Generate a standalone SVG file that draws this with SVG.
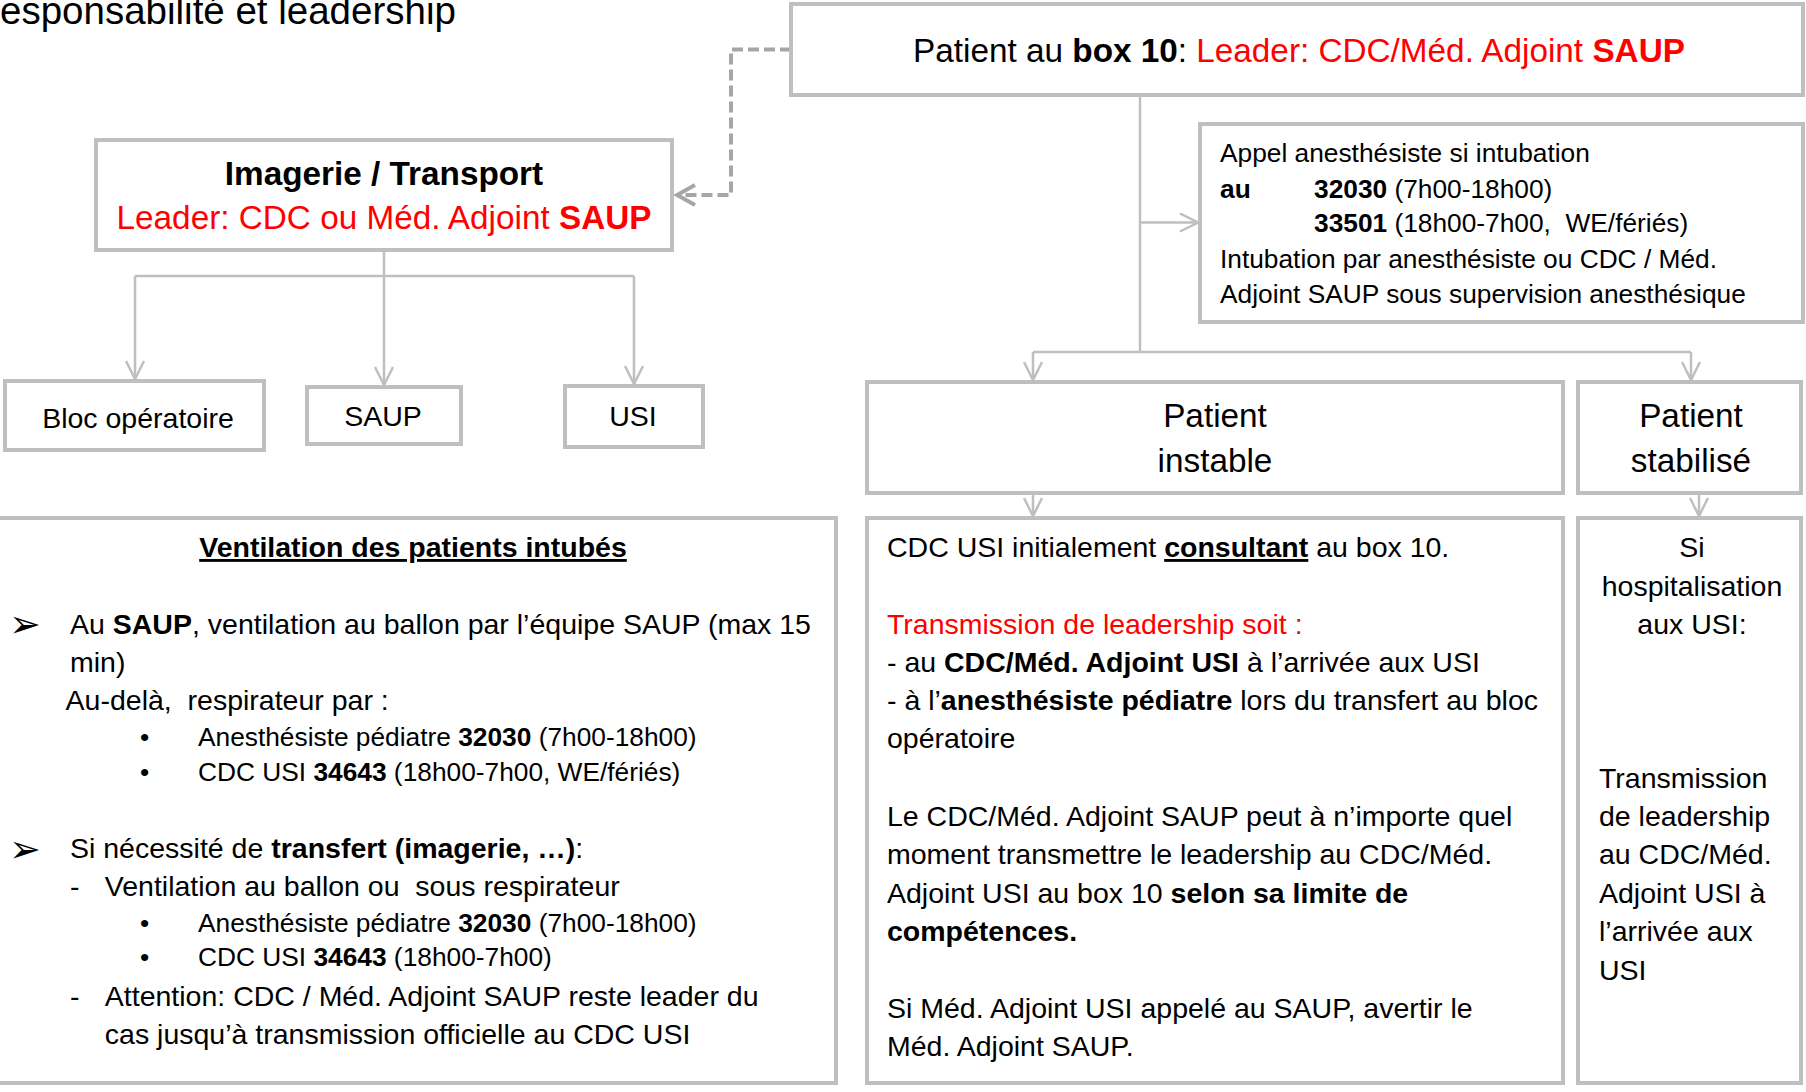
<svg xmlns="http://www.w3.org/2000/svg" width="1806" height="1092" viewBox="0 0 1806 1092">
<style>
.box{fill:#FFFFFF;stroke:#BFBFBF;stroke-width:4}
.t{font-family:"Liberation Sans",Arial,sans-serif;fill:#000000}
.h{font-size:33.3px}
.b{font-size:28.5px}
.s{font-size:26.3px}
.red{fill:#FF0000}
.bd{font-weight:bold}
.ti{font-size:38.5px}
.gl{font-family:"DejaVu Sans",sans-serif;font-size:38px;fill:#000000}
.conn{fill:none;stroke:#BFBFBF;stroke-width:2.5}
.dash{fill:none;stroke:#A6A6A6;stroke-width:4;stroke-dasharray:11 5}
</style>
<defs>
<marker id="arr" viewBox="0 0 20 20" refX="19" refY="10" markerWidth="20" markerHeight="20" markerUnits="userSpaceOnUse" orient="auto">
<path d="M1,1 L19,10 L1,19" fill="none" stroke="#BFBFBF" stroke-width="2.5"/>
</marker>
<marker id="arrd" viewBox="0 0 24 24" refX="21" refY="12" markerWidth="24" markerHeight="24" markerUnits="userSpaceOnUse" orient="auto">
<path d="M3,2 L21,12 L3,22" fill="none" stroke="#A6A6A6" stroke-width="4"/>
</marker>
</defs>
<rect x="0" y="0" width="1806" height="1092" fill="#FFFFFF"/>

<text id="title" class="t ti" x="0" y="24">esponsabilité et leadership</text>

<g id="connectors">
<path class="dash" d="M791,49.5 H731 V195 H677" marker-end="url(#arrd)"/>
<path class="conn" d="M384,252 V385" marker-end="url(#arr)"/>
<path class="conn" d="M135,276 H634"/>
<path class="conn" d="M135,276 V379" marker-end="url(#arr)"/>
<path class="conn" d="M634,276 V384" marker-end="url(#arr)"/>
<path class="conn" d="M1140,97 V352"/>
<path class="conn" d="M1140,222.5 H1198" marker-end="url(#arr)"/>
<path class="conn" d="M1033,352 H1691"/>
<path class="conn" d="M1033,352 V380" marker-end="url(#arr)"/>
<path class="conn" d="M1691,352 V380" marker-end="url(#arr)"/>
<path class="conn" d="M1033,495 V516" marker-end="url(#arr)"/>
<path class="conn" d="M1699,495 V516" marker-end="url(#arr)"/>
</g>

<g id="box10">
<rect class="box" x="791" y="4" width="1012" height="91"/>
<text class="t h" x="1299" y="62" text-anchor="middle">Patient au <tspan class="bd">box 10</tspan>: <tspan class="red">Leader: CDC/Méd. Adjoint </tspan><tspan class="red bd">SAUP</tspan></text>
</g>

<g id="imagerie">
<rect class="box" x="96" y="140" width="576" height="110"/>
<text class="t h bd" x="384" y="185" text-anchor="middle">Imagerie / Transport</text>
<text class="t h red" x="384" y="229" text-anchor="middle">Leader: CDC ou Méd. Adjoint <tspan class="bd">SAUP</tspan></text>
</g>

<g id="bloc">
<rect class="box" x="5" y="381" width="259" height="69"/>
<text class="t b" x="138" y="428" text-anchor="middle">Bloc opératoire</text>
</g>

<g id="saup">
<rect class="box" x="307" y="387" width="154" height="57"/>
<text class="t b" x="383" y="426" text-anchor="middle">SAUP</text>
</g>

<g id="usi">
<rect class="box" x="565" y="386" width="138" height="61"/>
<text class="t b" x="633" y="426" text-anchor="middle">USI</text>
</g>

<g id="anesthesie">
<rect class="box" x="1200" y="124" width="603" height="198"/>
<text class="t s" x="1220" y="162">Appel anesthésiste si intubation</text>
<text class="t s bd" x="1220" y="197.5">au</text>
<text class="t s" x="1314" y="197.5"><tspan class="bd">32030</tspan> (7h00-18h00)</text>
<text class="t s" x="1314" y="232" xml:space="preserve"><tspan class="bd">33501</tspan> (18h00-7h00,  WE/fériés)</text>
<text class="t s" x="1220" y="267.5">Intubation par anesthésiste ou CDC / Méd.</text>
<text class="t s" x="1220" y="303">Adjoint SAUP sous supervision anesthésique</text>
</g>

<g id="instable">
<rect class="box" x="867" y="382" width="696" height="111"/>
<text class="t h" x="1215" y="426.5" text-anchor="middle">Patient</text>
<text class="t h" x="1215" y="471.5" text-anchor="middle">instable</text>
</g>

<g id="stabilise">
<rect class="box" x="1578" y="382" width="223" height="111"/>
<text class="t h" x="1691" y="426.5" text-anchor="middle">Patient</text>
<text class="t h" x="1691" y="471.5" text-anchor="middle">stabilisé</text>
</g>

<g id="ventilation">
<rect class="box" x="-10" y="518" width="846" height="565"/>
<text class="t b bd" x="413" y="557" text-anchor="middle" text-decoration="underline">Ventilation des patients intubés</text>
<text class="gl" x="9" y="637">➢</text>
<text class="t b" x="70" y="633.5">Au <tspan class="bd">SAUP</tspan>, ventilation au ballon par l’équipe SAUP (max 15</text>
<text class="t b" x="70" y="671.5">min)</text>
<text class="t b" x="65.6" y="709.5" xml:space="preserve">Au-delà,  respirateur par :</text>
<text class="t s" x="140" y="746">•</text>
<text class="t s" x="198" y="746">Anesthésiste pédiatre <tspan class="bd">32030</tspan> (7h00-18h00)</text>
<text class="t s" x="140" y="781">•</text>
<text class="t s" x="198" y="781">CDC USI <tspan class="bd">34643</tspan> (18h00-7h00, WE/fériés)</text>
<text class="gl" x="9" y="862">➢</text>
<text class="t b" x="70" y="858">Si nécessité de <tspan class="bd">transfert (imagerie, …)</tspan>:</text>
<text class="t b" x="70" y="896">-</text>
<text class="t b" x="104.8" y="896" xml:space="preserve">Ventilation au ballon ou  sous respirateur</text>
<text class="t s" x="140" y="932">•</text>
<text class="t s" x="198" y="932">Anesthésiste pédiatre <tspan class="bd">32030</tspan> (7h00-18h00)</text>
<text class="t s" x="140" y="966">•</text>
<text class="t s" x="198" y="966">CDC USI <tspan class="bd">34643</tspan> (18h00-7h00)</text>
<text class="t b" x="70" y="1005.5">-</text>
<text class="t b" x="104.8" y="1005.5">Attention: CDC / Méd. Adjoint SAUP reste leader du</text>
<text class="t b" x="104.8" y="1043.5">cas jusqu’à transmission officielle au CDC USI</text>
</g>

<g id="cdc">
<rect class="box" x="867" y="518" width="696" height="565"/>
<text class="t b" x="887" y="557">CDC USI initialement <tspan class="bd" text-decoration="underline">consultant</tspan> au box 10.</text>
<text class="t b red" x="887" y="633.5">Transmission de leadership soit :</text>
<text class="t b" x="887" y="671.5">- au <tspan class="bd">CDC/Méd. Adjoint USI</tspan> à l’arrivée aux USI</text>
<text class="t b" x="887" y="709.5">- à l’<tspan class="bd">anesthésiste pédiatre</tspan> lors du transfert au bloc</text>
<text class="t b" x="887" y="747.5">opératoire</text>
<text class="t b" x="887" y="826">Le CDC/Méd. Adjoint SAUP peut à n’importe quel</text>
<text class="t b" x="887" y="864">moment transmettre le leadership au CDC/Méd.</text>
<text class="t b" x="887" y="903">Adjoint USI au box 10 <tspan class="bd">selon sa limite de</tspan></text>
<text class="t b bd" x="887" y="941">compétences.</text>
<text class="t b" x="887" y="1018">Si Méd. Adjoint USI appelé au SAUP, avertir le</text>
<text class="t b" x="887" y="1056">Méd. Adjoint SAUP.</text>
</g>

<g id="hospitalisation">
<rect class="box" x="1578" y="518" width="223" height="565"/>
<text class="t b" x="1692" y="557" text-anchor="middle">Si</text>
<text class="t b" x="1692" y="595.5" text-anchor="middle">hospitalisation</text>
<text class="t b" x="1692" y="633.5" text-anchor="middle">aux USI:</text>
<text class="t b" x="1599" y="788">Transmission</text>
<text class="t b" x="1599" y="826">de leadership</text>
<text class="t b" x="1599" y="864">au CDC/Méd.</text>
<text class="t b" x="1599" y="903">Adjoint USI à</text>
<text class="t b" x="1599" y="941">l’arrivée aux</text>
<text class="t b" x="1599" y="980">USI</text>
</g>
</svg>
